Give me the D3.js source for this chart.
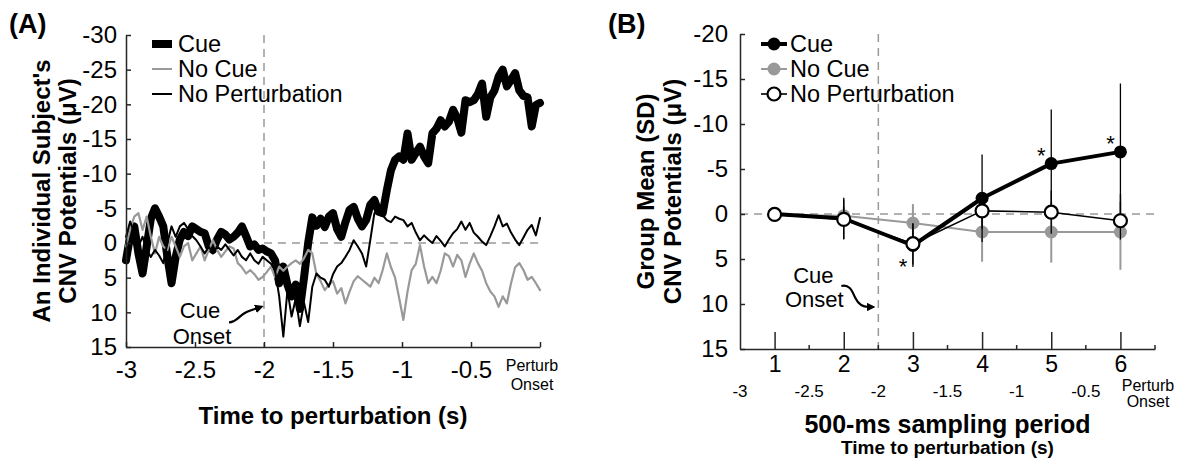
<!DOCTYPE html>
<html>
<head>
<meta charset="utf-8">
<script src="https://cdn.jsdelivr.net/npm/d3@7"></script>
<style>
  html, body { margin: 0; padding: 0; background: #fff; }
  svg { display: block; font-family: "Liberation Sans", Arial, Helvetica, sans-serif; }
</style>
</head>
<body>
<svg id="chart" width="1195" height="461"></svg>
<script>
// Panel A: one subject's CNV traces, sampled every 0.03 s from -3 s to perturbation onset
const TRACE_START = -3;
const TRACE_STEP = 0.03;
const cueTrace = [
  2.5, -1, -2.4, 1.5, 4.4, 0.5, -3.5, -5.0, -3.8, -2.4,
  2, 5.8, 2, -0.5, -1.6, -1.0, -2.4, -2.0, -1.6, -1.4,
  0.5, 1.0, -0.5, -1.6, -1.2, -0.5, -0.9, -1.5, -2.4, -1.0,
  0.5, 0.2, 1.0, 0.8, 1.2, 1.5, 2.5, 5.8, 3.4, 6,
  7.7, 6, 9.5, 5, 0, -3.7, -2.5, -3.5, -2.3, -3.8,
  -4.3, -2.0, -0.9, -3, -4.8, -5.2, -3.5, -2.4, -3.3, -5.5,
  -6.2, -4.5, -4.3, -7.6, -10.5, -12.0, -12.5, -12, -15.8, -12,
  -13, -13.9, -12.5, -11.5, -15.8, -16.5, -17.7, -16.8, -17.5, -19.2,
  -18, -15.9, -20.6, -20.3, -20.6, -21.5, -23, -18.2, -21, -22,
  -24, -25, -22.6, -23.5, -24.5, -22, -21.2, -21, -16.8, -19.9,
  -20.2
];
const noCueTrace = [
  0.5, -2, -3.8, -4.3, -1.9, -3.8, -0.9, 1.5, -0.9, 0.5,
  1.0, -0.9, 0.5, 2.0, 0.5, 0, 2.5, 1.5, 0.5, 2.5,
  1.0, -0.4, 1.0, 2.0, 1.2, 0.5, 0.8, 2.9, 3.5, 4.4,
  3.9, 4.5, 5.3, 4.9, 4.2, 3.4, 4.9, 3.4, 4.0, 3.4,
  2.9, 2.5, 3.0, 2.2, 1.0, 1.5, 4.5, 5.5, 6.8, 6.0,
  5.5, 7.3, 6.5, 8.7, 7.0, 5.5, 4.8, 5.3, 5.8, 6.3,
  5.0, 5.8, 3.9, 1.5, 3.5, 5.0, 8.0, 11.1, 7.0, 3.9,
  3.0, 0.3, 3.4, 5.8, 4.9, 5.8, 4.0, 1.5, 1.9, 3.4,
  1.7, 2.5, 4.9, 3.0, 1.5, 2.9, 4.0, 5.8, 7.0, 7.7,
  9.2, 7.7, 8.7, 5.8, 3.5, 2.9, 3.9, 5.3, 4.9, 5.8,
  6.8
];
const noPertTrace = [
  -0.9, -3.1, -1.5, 0.5, -0.9, 1.0, 2.0, 1.0, 1.8, 2.9,
  0, -2.4, -0.9, -2.4, -2.9, -2.0, -1.0, -0.4, 0.5, 1.5,
  0.5, 1.5, 0.5, 1.0, 0.2, 1.0, 1.8, 1.0, 2.0, 2.5,
  1.5, 2.5, 3.0, 2.0, 2.5, 3.0, 3.9, 7.7, 13.5, 6.8,
  10.6, 8.0, 12, 8.6, 11.4, 6.3, 4.4, 5.0, 5.3, 6.3,
  4.5, 3.4, 2.9, 2.0, 1.0, -0.4, 0.5, 1.5, 3.4, -0.4,
  -4.3, -4.8, -4.0, -3.3, -3.0, -3.8, -3.5, -3.3, -2.4, -2.9,
  -1.5, -0.4, -1.1, -0.5, 0, -1.0, -0.3, 0.5, -0.5, -1.4,
  -2.0, -3.1, -1.9, -2.9, -1.5, -0.9, -0.2, 0.3, -1.0, -2.4,
  -4.0, -2.4, -2.8, -1.5, -0.5, 0.3, -0.8, -1.9, -2.6, -1.1,
  -3.6
];
const timeTicks = [-3, -2.5, -2, -1.5, -1, -0.5];
const voltTicksA = [-30, -25, -20, -15, -10, -5, 0, 5, 10, 15];

// Panel B: group mean (SD) per 500-ms sampling period
const periods = [1, 2, 3, 4, 5, 6];
const cueMean = [0, 0.5, 3.5, -1.75, -5.6, -6.9];
const cueSD = [0.3, 2.3, 2.4, 4.85, 6.0, 7.6];
const noCueMean = [0.1, 0.2, 1.0, 2.0, 2.0, 2.0];
const noCueSD = [0.3, 1.0, 2.1, 3.3, 3.4, 4.2];
const noPertMean = [0.05, 0.6, 3.3, -0.35, -0.2, 0.75];
const noPertSD = [0.3, 2.2, 2.3, 2.0, 2.4, 2.1];
const starPeriods = [3, 5, 6];   // cue differs from no-cue
const voltTicksB = [-20, -15, -10, -5, 0, 5, 10, 15];
const minorPeriods = [1.5, 2.5, 3.5, 4.5, 5.5, 6.5];

const FONT = '"Liberation Sans", Arial, Helvetica, sans-serif';
const AXIS_COLOR = '#262626';
const GRAY = '#999';
const DASH = '8,6';

const svg = d3.select('#chart');

svg.append('defs').append('marker')
  .attr('id', 'arrowhead')
  .attr('viewBox', '0 0 10 10')
  .attr('refX', 2).attr('refY', 5)
  .attr('markerWidth', 4).attr('markerHeight', 4)
  .attr('orient', 'auto')
  .append('path')
  .attr('d', 'M0,0 L10,5 L0,10 Z')
  .attr('fill', '#000');

function styleAxis(g, size) {
  g.select('.domain').attr('stroke', AXIS_COLOR).attr('stroke-width', 1.5);
  g.selectAll('.tick line').attr('stroke', AXIS_COLOR).attr('stroke-width', 1.5);
  g.selectAll('.tick text')
    .attr('fill', '#000').attr('font-size', size).attr('font-family', FONT);
}

function addText(g, x, y, str, opts = {}) {
  return g.append('text')
    .attr('x', x).attr('y', y)
    .attr('font-size', opts.size || 22)
    .attr('font-weight', opts.bold ? 'bold' : 'normal')
    .attr('text-anchor', opts.anchor || 'start')
    .attr('fill', opts.fill || '#000')
    .text(str);
}

function addVLabel(g, cx, cy, str, size) {
  g.append('text')
    .attr('transform', `translate(${cx},${cy}) rotate(-90)`)
    .attr('text-anchor', 'middle')
    .attr('font-size', size).attr('font-weight', 'bold')
    .text(str);
}

// ================= Panel A =================
const xA = d3.scaleLinear().domain([-3, 0]).range([126, 540]);
const yA = d3.scaleLinear().domain([-30, 15]).range([35, 347]);
const gA = svg.append('g');

// cue onset and zero reference lines
gA.append('line')
  .attr('x1', xA(-2)).attr('x2', xA(-2))
  .attr('y1', yA(-30)).attr('y2', yA(15))
  .attr('stroke', GRAY).attr('stroke-width', 1.5).attr('stroke-dasharray', DASH);
gA.append('line')
  .attr('x1', xA(-2)).attr('x2', xA(0))
  .attr('y1', yA(0)).attr('y2', yA(0))
  .attr('stroke', GRAY).attr('stroke-width', 1.5).attr('stroke-dasharray', DASH);

const traceLine = d3.line()
  .x((v, i) => xA(TRACE_START + i * TRACE_STEP))
  .y(v => yA(v));

const tracesA = [
  { data: cueTrace, color: '#000', width: 8 },
  { data: noCueTrace, color: GRAY, width: 2.2 },
  { data: noPertTrace, color: '#000', width: 2 },
];
gA.selectAll('.trace')
  .data(tracesA)
  .join('path')
  .attr('class', 'trace')
  .attr('d', d => traceLine(d.data))
  .attr('fill', 'none')
  .attr('stroke', d => d.color)
  .attr('stroke-width', d => d.width)
  .attr('stroke-linejoin', 'round')
  .attr('stroke-linecap', 'round');

// axes
gA.append('g')
  .attr('transform', `translate(${xA(-3)},0)`)
  .call(d3.axisLeft(yA).tickValues(voltTicksA)
    .tickSizeInner(-5).tickSizeOuter(0).tickPadding(9)
    .tickFormat(d => String(d)))
  .call(g => styleAxis(g, 24));

gA.append('g')
  .attr('transform', `translate(0,${yA(15)})`)
  .call(d3.axisBottom(xA).tickValues([...timeTicks, 0])
    .tickSizeInner(-5).tickSizeOuter(0).tickPadding(14)
    .tickFormat(d => d === 0 ? '' : String(d)))
  .call(g => styleAxis(g, 24));

addText(gA, xA(0) - 8, 371, 'Perturb', { size: 16, anchor: 'middle' });
addText(gA, xA(0) - 8, 390, 'Onset', { size: 16, anchor: 'middle' });

// labels
addText(gA, 9, 33, '(A)', { size: 27, bold: true });
addText(gA, (xA(-3) + xA(0)) / 2, 424, 'Time to perturbation (s)', { size: 24, bold: true, anchor: 'middle' });
const midA = (yA(-30) + yA(15)) / 2;
addVLabel(gA, 50, midA, "An Individual Subject's", 24);
addVLabel(gA, 76, midA, 'CNV Potentials (\u03BCV)', 24);

// cue onset note
addText(gA, xA(-2) - 64, yA(10) + 6, 'Cue', { size: 22, anchor: 'middle' });
addText(gA, xA(-2) - 62, yA(10) + 32, 'Onset', { size: 22, anchor: 'middle' });
{
  const tx = xA(-2), ty = yA(10);
  gA.append('path')
    .attr('d', `M${tx - 35},${ty + 10} C${tx - 27},${ty + 10} ${tx - 24},${ty + 2} ${tx - 18},${ty}` +
      ` C${tx - 14},${ty - 2} ${tx - 10},${ty - 3} ${tx - 7},${ty - 4}`)
    .attr('fill', 'none').attr('stroke', '#000').attr('stroke-width', 2.2)
    .attr('marker-end', 'url(#arrowhead)');
}

// legend
const legendA = [
  { name: 'Cue', color: '#000', width: 8 },
  { name: 'No Cue', color: GRAY, width: 2 },
  { name: 'No Perturbation', color: '#000', width: 2 },
];
legendA.forEach((d, i) => {
  const y = 44 + i * 25;
  gA.append('line')
    .attr('x1', 152).attr('x2', 172).attr('y1', y).attr('y2', y)
    .attr('stroke', d.color).attr('stroke-width', d.width);
  addText(gA, 178, y + 8, d.name, { size: 23.5 });
});

// ================= Panel B =================
const xB = d3.scaleLinear().domain([0.5, 6.5]).range([740, 1155]);
const xT = d3.scaleLinear().domain([-3, 0]).range([740, 1155]);
const yB = d3.scaleLinear().domain([-20, 15]).range([34, 349]);
const gB = svg.append('g');

gB.append('line')
  .attr('x1', xB(2.5)).attr('x2', xB(2.5))
  .attr('y1', yB(-20)).attr('y2', yB(15))
  .attr('stroke', GRAY).attr('stroke-width', 1.5).attr('stroke-dasharray', DASH);
gB.append('line')
  .attr('x1', xB(0.5)).attr('x2', xB(6.5))
  .attr('y1', yB(0)).attr('y2', yB(0))
  .attr('stroke', GRAY).attr('stroke-width', 1.5).attr('stroke-dasharray', DASH);

const seriesB = [
  { name: 'No Cue', mean: noCueMean, sd: noCueSD, color: GRAY, width: 2, barWidth: 2, fill: GRAY, markerStroke: 'none' },
  { name: 'Cue', mean: cueMean, sd: cueSD, color: '#000', width: 4, barWidth: 1.3, fill: '#000', markerStroke: 'none' },
  { name: 'No Perturbation', mean: noPertMean, sd: noPertSD, color: '#000', width: 1.6, barWidth: 1.3, fill: '#fff', markerStroke: '#000' },
];
const meanLine = d3.line().x(d => xB(d.p)).y(d => yB(d.m));
const R = 6.5;

seriesB.forEach(s => {
  const pts = periods.map((p, i) => ({ p, m: s.mean[i], sd: s.sd[i] }));
  const g = gB.append('g');
  g.selectAll('.bar')
    .data(pts)
    .join('line')
    .attr('class', 'bar')
    .attr('x1', d => xB(d.p)).attr('x2', d => xB(d.p))
    .attr('y1', d => yB(d.m - d.sd)).attr('y2', d => yB(d.m + d.sd))
    .attr('stroke', s.color).attr('stroke-width', s.barWidth);
  g.append('path')
    .attr('d', meanLine(pts))
    .attr('fill', 'none').attr('stroke', s.color).attr('stroke-width', s.width)
    .attr('stroke-linejoin', 'round');
  g.selectAll('.dot')
    .data(pts)
    .join('circle')
    .attr('class', 'dot')
    .attr('cx', d => xB(d.p)).attr('cy', d => yB(d.m)).attr('r', R)
    .attr('fill', s.fill)
    .attr('stroke', s.markerStroke).attr('stroke-width', 2.2);
});

// significance stars next to the cue means
gB.selectAll('.star')
  .data(starPeriods)
  .join('text')
  .attr('class', 'star')
  .attr('x', p => xB(p) - 10)
  .attr('y', p => {
    const m = cueMean[periods.indexOf(p)];
    return m > 0 ? yB(m) + 28 : yB(m) - 1;
  })
  .attr('text-anchor', 'middle')
  .attr('font-size', 22)
  .text('*');

// axes
gB.append('g')
  .attr('transform', `translate(${xB(0.5)},0)`)
  .call(d3.axisLeft(yB).tickValues(voltTicksB)
    .tickSizeInner(-5).tickSizeOuter(0).tickPadding(12)
    .tickFormat(d => String(d)))
  .call(g => styleAxis(g, 24));

const xAxisB = gB.append('g')
  .attr('transform', `translate(0,${yB(15)})`)
  .call(d3.axisBottom(xB).tickValues(periods)
    .tickSizeInner(-17).tickSizeOuter(0).tickPadding(7)
    .tickFormat(d => String(d)))
  .call(g => styleAxis(g, 23));
xAxisB.selectAll('.minor')
  .data(minorPeriods)
  .join('line')
  .attr('class', 'minor')
  .attr('x1', d => xB(d)).attr('x2', d => xB(d))
  .attr('y1', 0).attr('y2', -4)
  .attr('stroke', AXIS_COLOR).attr('stroke-width', 1.5);

// seconds row under the periods
gB.selectAll('.sec')
  .data(timeTicks)
  .join('text')
  .attr('class', 'sec')
  .attr('x', d => xT(d)).attr('y', 397)
  .attr('text-anchor', 'middle').attr('font-size', 17)
  .text(d => String(d));
addText(gB, xT(0) - 7, 391, 'Perturb', { size: 16, anchor: 'middle' });
addText(gB, xT(0) - 7, 407, 'Onset', { size: 16, anchor: 'middle' });

// labels
addText(gB, 608, 33, '(B)', { size: 27, bold: true });
addText(gB, (xB(0.5) + xB(6.5)) / 2, 433, '500-ms sampling period', { size: 25, bold: true, anchor: 'middle' });
addText(gB, (xB(0.5) + xB(6.5)) / 2, 454, 'Time to perturbation (s)', { size: 19, bold: true, anchor: 'middle' });
const midB = (yB(-20) + yB(15)) / 2;
addVLabel(gB, 654, midB, 'Group Mean (SD)', 24);
addVLabel(gB, 681, midB, 'CNV Potentials (\u03BCV)', 24);

// cue onset note
addText(gB, xB(2.5) - 65, yB(5) + 24, 'Cue', { size: 22, anchor: 'middle' });
addText(gB, xB(2.5) - 64, yB(10) + 3, 'Onset', { size: 22, anchor: 'middle' });
{
  const tx = xB(2.5), ty = yB(10);
  gB.append('path')
    .attr('d', `M${tx - 37},${ty - 18} C${tx - 28},${ty - 20} ${tx - 26},${ty - 12} ${tx - 23},${ty - 6}` +
      ` C${tx - 20},${ty} ${tx - 16},${ty + 3} ${tx - 10},${ty + 3}`)
    .attr('fill', 'none').attr('stroke', '#000').attr('stroke-width', 2.2)
    .attr('marker-end', 'url(#arrowhead)');
}

// legend
const legendB = [
  { name: 'Cue', color: '#000', width: 4, fill: '#000', stroke: 'none' },
  { name: 'No Cue', color: GRAY, width: 2, fill: GRAY, stroke: 'none' },
  { name: 'No Perturbation', color: '#000', width: 1.6, fill: '#fff', stroke: '#000' },
];
legendB.forEach((d, i) => {
  const y = 44 + i * 25;
  gB.append('line')
    .attr('x1', 761).attr('x2', 787).attr('y1', y).attr('y2', y)
    .attr('stroke', d.color).attr('stroke-width', d.width);
  gB.append('circle')
    .attr('cx', 774).attr('cy', y).attr('r', R)
    .attr('fill', d.fill).attr('stroke', d.stroke).attr('stroke-width', 2.2);
  addText(gB, 790, y + 8, d.name, { size: 23.5 });
});
</script>
</body>
</html>
